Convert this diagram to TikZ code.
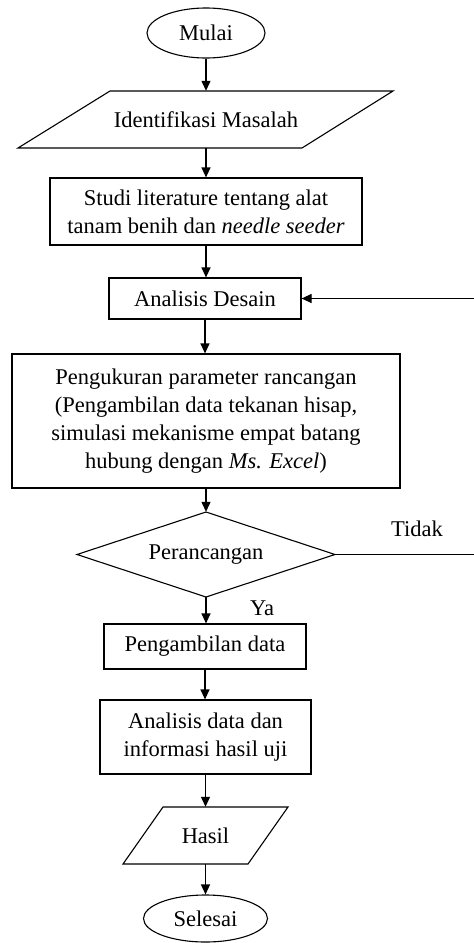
\documentclass[tikz,border=0pt]{standalone}
\usepackage{fontspec}
\setmainfont{Liberation Serif}
\usetikzlibrary{shapes.geometric,arrows.meta}
\begin{document}
\begin{tikzpicture}[x=1pt,y=-1pt,
  every node/.style={font=\fontsize{22.5}{28}\selectfont, inner sep=0pt, align=center},
  boxnode/.style={draw, line width=1.2pt, rectangle},
  ovalnode/.style={draw, line width=1.1pt, ellipse},
  plainnode/.style={},
  flowline/.style={line width=1.2pt},
  flowarrow/.style={line width=1.2pt, -{Triangle[length=10pt,width=9pt]}},
  para/.style={draw, line width=1.1pt, line join=miter}
]
\useasboundingbox (0,0) rectangle (474,943);

% Start
\node[ovalnode, minimum width=118pt, minimum height=50pt] (mulai) at (206,33) {Mulai};

% Identifikasi Masalah (parallelogram)
\draw[para] (110,91) -- (393,91) -- (302,148) -- (18,148) -- cycle;
\node[plainnode, minimum height=57pt] (idm) at (206,119.5) {Identifikasi Masalah};

% Studi literature
\node[boxnode, minimum width=312pt, minimum height=67pt] (studi) at (206,211.5)
  {Studi literature tentang alat\\tanam benih dan \textit{needle seeder}};

% Analisis Desain
\node[boxnode, minimum width=192pt, minimum height=41pt] (desain) at (205,298.5) {Analisis Desain};

% Pengukuran
\node[boxnode, minimum width=388pt, minimum height=134pt] (ukur) at (206,421)
  {Pengukuran parameter rancangan\\(Pengambilan data tekanan hisap,\\simulasi mekanisme empat batang\\hubung dengan \textit{Ms. Excel})};

% Decision (diamond)
\draw[para] (77,554.5) -- (206,512) -- (335,554.5) -- (206,597) -- cycle;
\node[plainnode, minimum width=258pt, minimum height=85pt] (rancang) at (206,554.5) {Perancangan};

% Pengambilan data
\node[boxnode, minimum width=202pt, minimum height=45pt] (ambil) at (205,646.5) {Pengambilan data};

% Analisis data
\node[boxnode, minimum width=211pt, minimum height=74pt] (analisis) at (205.5,737)
  {Analisis data dan\\informasi hasil uji};

% Hasil (parallelogram)
\draw[para] (163,807) -- (288,807) -- (248,864) -- (123,864) -- cycle;
\node[plainnode, minimum height=57pt] (hasil) at (205.5,835.5) {Hasil};

% End
\node[ovalnode, minimum width=124pt, minimum height=47pt] (selesai) at (205.5,918.5) {Selesai};

% Labels
\node[plainnode] (ya) at (262,608) {Ya};
\node[plainnode] (tidak) at (417,529) {Tidak};

% Loop coordinates at picture edge
\coordinate (loopin) at (474,298.5);
\coordinate (loopout) at (474,554.5);

% Connectors
\draw[flowarrow] (mulai.south) -- (mulai.south |- idm.north);
\draw[flowarrow] (idm.south) -- (idm.south |- studi.north);
\draw[flowarrow] (studi.south) -- (studi.south |- desain.north);
\draw[flowarrow] (desain.south) -- (desain.south |- ukur.north);
\draw[flowarrow] (ukur.south) -- (rancang.north);
\draw[flowarrow] (rancang.south) -- (rancang.south |- ambil.north);
\draw[flowarrow] (ambil.south) -- (ambil.south |- analisis.north);
\draw[flowarrow] (analisis.south) -- (analisis.south |- hasil.north);
\draw[flowarrow] (hasil.south) -- (hasil.south |- selesai.north);
\draw[flowline] (rancang.east) -- (loopout);
\draw[flowarrow] (loopin) -- (desain.east);
\end{tikzpicture}
\end{document}
